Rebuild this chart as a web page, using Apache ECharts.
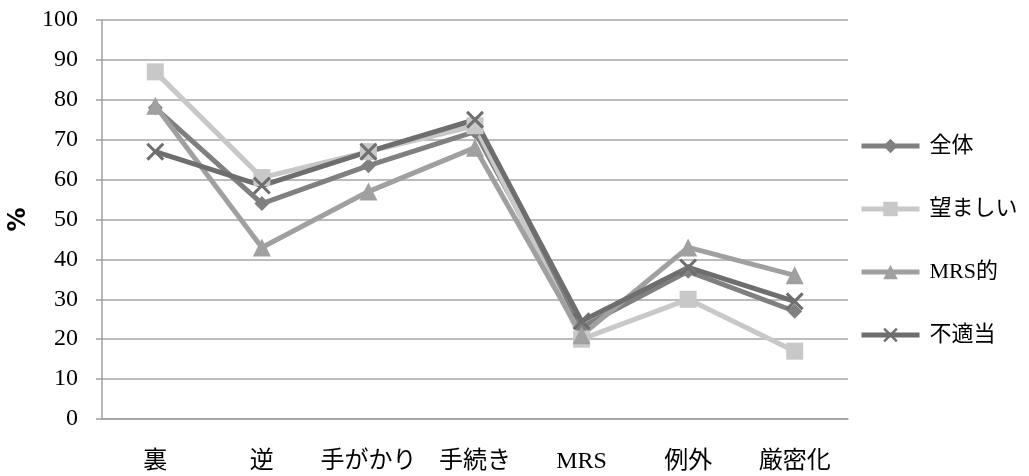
<!DOCTYPE html>
<html>
<head>
<meta charset="utf-8">
<script src="https://cdn.jsdelivr.net/npm/echarts@6/dist/echarts.min.js"></script>
<style>
  html, body { margin: 0; padding: 0; background: #fff; }
  #chart { width: 1029px; height: 476px; }
</style>
</head>
<body>
<div id="chart"></div>
<script>
// Categories along the x axis
const categories = ['裏', '逆', '手がかり', '手続き', 'MRS', '例外', '厳密化'];

// Percent values per group
const zentai    = [78, 54, 63.5, 72, 23, 37, 27];
const nozomashii = [87, 60.5, 67, 73.5, 20, 30, 17];
const mrsTeki   = [78.5, 43, 57, 68, 21, 43, 36];
const futekitou = [67, 58.5, 67, 75, 24.5, 38, 29.5];

const seriesNames = ['全体', '望ましい', 'MRS的', '不適当'];

const serifFont = '"Liberation Serif", "DejaVu Serif", "Noto Sans CJK JP", serif';
const crossPath = 'path://M0,1.2L1.2,0L10,8.8L8.8,10Z M8.8,0L10,1.2L1.2,10L0,8.8Z';

function lineSeries(name, data, color, symbol, size) {
  return {
    name: name,
    type: 'line',
    data: data,
    symbol: symbol,
    symbolSize: size,
    showAllSymbol: true,
    lineStyle: { color: color, width: 5 },
    itemStyle: { color: color },
    emphasis: { disabled: true },
    animation: false
  };
}

const chart = echarts.init(document.getElementById('chart'), null, { renderer: 'canvas' });
chart.setOption({
  backgroundColor: '#ffffff',
  grid: { left: 102, top: 20, width: 746, bottom: 57, containLabel: false, outerBoundsMode: 'none' },
  legend: {
    orient: 'vertical',
    left: 859,
    top: 135,
    padding: 0,
    itemGap: 41,
    itemWidth: 58,
    itemHeight: 18,
    data: seriesNames,
    lineStyle: { width: 5 },
    textStyle: { fontFamily: serifFont, fontSize: 22, color: '#000', padding: [0, 0, 0, 5] }
  },
  xAxis: {
    type: 'category',
    data: categories,
    boundaryGap: true,
    axisLine: { lineStyle: { color: '#a0a0a0', width: 1.5 } },
    axisTick: { inside: true, length: 8, lineStyle: { color: '#a0a0a0', width: 1.5 } },
    axisLabel: { interval: 0, margin: 31, fontFamily: serifFont, fontSize: 24, color: '#000' }
  },
  yAxis: {
    type: 'value',
    min: 0,
    max: 100,
    interval: 10,
    name: '%',
    nameLocation: 'middle',
    nameGap: 63,
    nameRotate: 90,
    nameTextStyle: { fontFamily: '"DejaVu Sans", sans-serif', fontSize: 24, color: '#000', fontWeight: 'bold' },
    axisLine: { show: true, lineStyle: { color: '#a0a0a0', width: 1.5 } },
    axisTick: { show: true, length: 6, lineStyle: { color: '#a0a0a0', width: 1.5 } },
    splitLine: { lineStyle: { color: '#a6a6a6', width: 1.5 } },
    axisLabel: { margin: 24, fontFamily: serifFont, fontSize: 24, color: '#000' }
  },
  series: [
    lineSeries(seriesNames[0], zentai, '#808080', 'diamond', 15),
    lineSeries(seriesNames[1], nozomashii, '#c8c8c8', 'rect', 17),
    lineSeries(seriesNames[2], mrsTeki, '#a0a0a0', 'triangle', 18),
    lineSeries(seriesNames[3], futekitou, '#6e6e6e', crossPath, 18)
  ]
});
</script>
</body>
</html>
